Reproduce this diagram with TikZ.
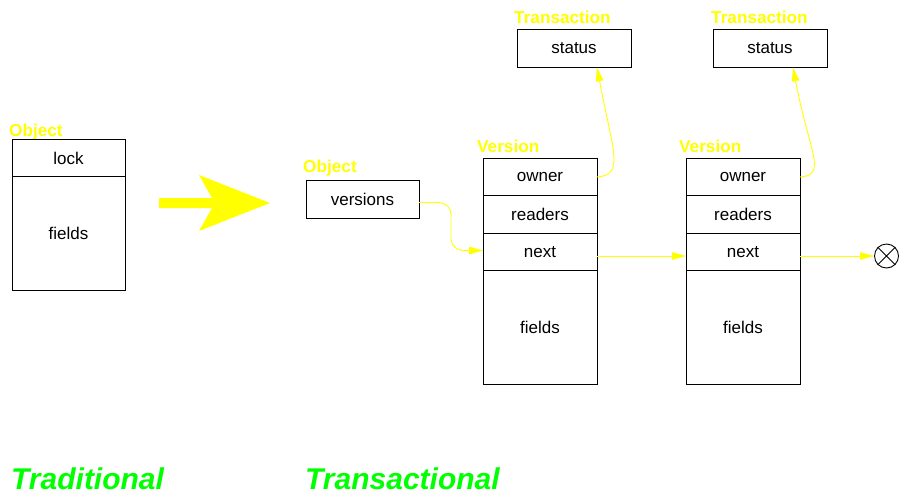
\documentclass[tikz,border=0pt]{standalone}
\usepackage{fontspec}
\setmainfont{Liberation Sans}
\usetikzlibrary{arrows.meta,calc}
\definecolor{figyellow}{RGB}{255,255,0}
\definecolor{figgreen}{RGB}{0,255,0}

\begin{document}
\begin{tikzpicture}[x=1pt,y=-1pt,
  cell/.style={draw=black, line width=0.9pt, inner sep=0pt, outer sep=0pt,
    minimum width=114pt, minimum height=37.5pt,
    font=\fontsize{17}{20}\selectfont},
  tall/.style={cell, minimum height=113.3pt},
  tag/.style={anchor=base west, inner sep=0pt, text=figyellow,
    font=\fontsize{17.2}{20}\selectfont\bfseries},
  link/.style={draw=figyellow, line width=0.9pt,
    -{Triangle[length=14pt,width=7.5pt]}},
  caption/.style={anchor=base west, inner sep=0pt, text=figgreen,
    font=\fontsize{30}{34}\selectfont\bfseries\itshape}]
\useasboundingbox (0,0) rectangle (899,496);

% traditional object: a lock word and the fields
\node[tag] (objA) at (9,136) {Object};
\node[cell, minimum width=113pt] (lock) at (68.5,158) {lock};
\node[tall, minimum width=113pt] (fldA) at (68.5,233.4) {fields};

% big arrow between the two layouts
\fill[figyellow] (159,198) -- (212,198) -- (199,175) -- (270,203)
  -- (199,231) -- (212,208) -- (159,208) -- cycle;

% transactional object header
\node[tag] (objB) at (303,172) {Object};
\node[cell, minimum width=113pt] (vers) at (362.5,199.5) {versions};

% first version
\node[tag] (verA) at (477,152) {Version};
\node[cell] (own1) at (540,177) {owner};
\node[cell] (rdr1) at (540,214.5) {readers};
\node[cell] (nxt1) at (540,252) {next};
\node[tall] (fld1) at (540,327.4) {fields};

% second version
\node[tag] (verB) at (679,152) {Version};
\node[cell] (own2) at (743,177) {owner};
\node[cell] (rdr2) at (743,214.5) {readers};
\node[cell] (nxt2) at (743,252) {next};
\node[tall] (fld2) at (743,327.4) {fields};

% transaction descriptors
\node[tag] (trA) at (514,23) {Transaction};
\node[cell] (stat1) at (574,48.5) {status};
\node[tag] (trB) at (711,23) {Transaction};
\node[cell] (stat2) at (770,48.5) {status};

% end of the version chain
\node[draw=black, line width=0.9pt, circle, minimum size=24pt,
  inner sep=0pt] (null) at (886.5,256) {};
\draw[line width=0.9pt] (null.north west) -- (null.south east)
  (null.north east) -- (null.south west);

% pointers
\draw[link, rounded corners=12pt] ([yshift=-3pt]vers.east)
  -| ($(vers.east)!0.5!(nxt1.west)$) |- ([yshift=1.5pt]nxt1.west);
\draw[link] (own1.east) .. controls +(28,-2) and +(16,85)
  .. ([xshift=23pt]stat1.south);
\draw[link] (own2.east) .. controls +(28,-2) and +(16,85)
  .. ([xshift=23pt]stat2.south);
\draw[link] ([yshift=-4pt]nxt1.east) -- ([yshift=-4pt]nxt2.west);
\draw[link] ([yshift=-4pt]nxt2.east) -- (null.west);

% captions
\node[caption] (capA) at (11,489) {Traditional};
\node[caption] (capB) at (305,489) {Transactional};
\end{tikzpicture}
\end{document}
